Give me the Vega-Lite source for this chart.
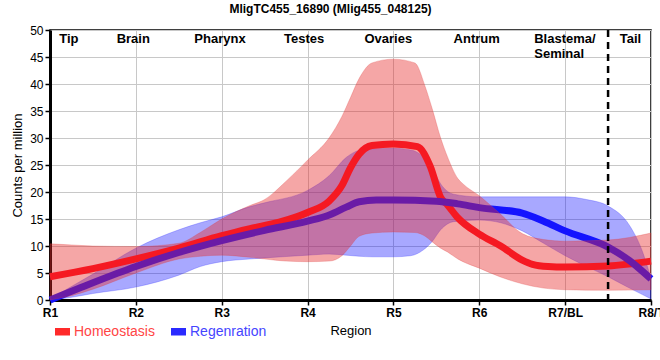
{
  "$schema": "https://vega.github.io/schema/vega-lite/v6.json",
  "width": 601,
  "height": 270,
  "autosize": "none",
  "padding": {"left": 50, "top": 30, "right": 9, "bottom": 60},
  "config": {
    "font": "Liberation Sans",
    "view": {"stroke": "black", "strokeWidth": 1.5},
    "axis": {"grid": true, "gridColor": "#c8c8c8", "gridWidth": 1, "domainColor": "black", "domainWidth": 3, "tickColor": "black", "tickSize": 5, "tickWidth": 1.5, "labelFontSize": 12, "labelColor": "black", "labelPadding": 2, "labelFlush": false, "labelOverlap": false, "titleFontSize": 13, "titleFontWeight": "normal", "titleColor": "black"},
    "axisX": {"tickCount": 8, "labelExpr": "datum.value == 7 ? 'R7/BL' : datum.value == 8 ? 'R8/T' : 'R' + datum.value", "labelFontWeight": "bold", "titlePadding": 6},
    "axisY": {"tickCount": 10, "titlePadding": 5}
  },
  "title": {"text": "MligTC455_16890 (Mlig455_048125)", "fontSize": 12, "fontWeight": "bold", "font": "Liberation Sans", "color": "black", "anchor": "middle", "dx": -20, "offset": 8},
  "datasets": {
    "lines": [
      {"x": 1, "y": 4.3, "g": "Homeostasis"},
      {"x": 1.5, "y": 5.8, "g": "Homeostasis"},
      {"x": 2, "y": 7.6, "g": "Homeostasis"},
      {"x": 2.5, "y": 9.6, "g": "Homeostasis"},
      {"x": 3, "y": 11.9, "g": "Homeostasis"},
      {"x": 3.33, "y": 13.2, "g": "Homeostasis"},
      {"x": 3.67, "y": 14.4, "g": "Homeostasis"},
      {"x": 4, "y": 16.2, "g": "Homeostasis"},
      {"x": 4.25, "y": 18.3, "g": "Homeostasis"},
      {"x": 4.4, "y": 21.2, "g": "Homeostasis"},
      {"x": 4.5, "y": 24.5, "g": "Homeostasis"},
      {"x": 4.6, "y": 27.0, "g": "Homeostasis"},
      {"x": 4.75, "y": 28.6, "g": "Homeostasis"},
      {"x": 5, "y": 28.9, "g": "Homeostasis"},
      {"x": 5.28, "y": 28.4, "g": "Homeostasis"},
      {"x": 5.43, "y": 24.7, "g": "Homeostasis"},
      {"x": 5.55, "y": 19.0, "g": "Homeostasis"},
      {"x": 5.63, "y": 17.6, "g": "Homeostasis"},
      {"x": 5.74, "y": 15.4, "g": "Homeostasis"},
      {"x": 6, "y": 12.2, "g": "Homeostasis"},
      {"x": 6.25, "y": 10.0, "g": "Homeostasis"},
      {"x": 6.5, "y": 7.4, "g": "Homeostasis"},
      {"x": 6.62, "y": 6.6, "g": "Homeostasis"},
      {"x": 6.8, "y": 6.2, "g": "Homeostasis"},
      {"x": 7, "y": 6.1, "g": "Homeostasis"},
      {"x": 7.5, "y": 6.3, "g": "Homeostasis"},
      {"x": 8, "y": 7.2, "g": "Homeostasis"},
      {"x": 1, "y": 0, "g": "Regenration"},
      {"x": 1.5, "y": 3.2, "g": "Regenration"},
      {"x": 2, "y": 6.2, "g": "Regenration"},
      {"x": 2.5, "y": 8.8, "g": "Regenration"},
      {"x": 3, "y": 11.0, "g": "Regenration"},
      {"x": 3.5, "y": 12.9, "g": "Regenration"},
      {"x": 4, "y": 14.6, "g": "Regenration"},
      {"x": 4.26, "y": 15.8, "g": "Regenration"},
      {"x": 4.45, "y": 17.2, "g": "Regenration"},
      {"x": 4.6, "y": 18.2, "g": "Regenration"},
      {"x": 4.8, "y": 18.5, "g": "Regenration"},
      {"x": 5, "y": 18.5, "g": "Regenration"},
      {"x": 5.5, "y": 18.3, "g": "Regenration"},
      {"x": 5.75, "y": 17.8, "g": "Regenration"},
      {"x": 6, "y": 17.1, "g": "Regenration"},
      {"x": 6.5, "y": 16.1, "g": "Regenration"},
      {"x": 6.75, "y": 14.6, "g": "Regenration"},
      {"x": 7, "y": 12.8, "g": "Regenration"},
      {"x": 7.5, "y": 9.8, "g": "Regenration"},
      {"x": 7.75, "y": 7.3, "g": "Regenration"},
      {"x": 8, "y": 3.9, "g": "Regenration"}
    ],
    "redband": [
      {"x": 1, "lo": 0, "hi": 10.4},
      {"x": 1.25, "lo": 0.8, "hi": 10.2},
      {"x": 1.5, "lo": 2.0, "hi": 10.0},
      {"x": 2, "lo": 5.0, "hi": 9.9},
      {"x": 2.5, "lo": 7.6, "hi": 10.5},
      {"x": 2.75, "lo": 8.1, "hi": 12.5},
      {"x": 3, "lo": 8.3, "hi": 15.0},
      {"x": 3.33, "lo": 7.9, "hi": 17.5},
      {"x": 3.5, "lo": 7.6, "hi": 18.6},
      {"x": 3.75, "lo": 7.2, "hi": 22.0},
      {"x": 4, "lo": 7.1, "hi": 25.9},
      {"x": 4.25, "lo": 7.2, "hi": 30.0},
      {"x": 4.4, "lo": 8.2, "hi": 34.0},
      {"x": 4.5, "lo": 10.0, "hi": 37.5},
      {"x": 4.6, "lo": 11.8, "hi": 41.0},
      {"x": 4.75, "lo": 12.4, "hi": 43.9},
      {"x": 5, "lo": 12.6, "hi": 44.6},
      {"x": 5.25, "lo": 12.5, "hi": 43.9},
      {"x": 5.37, "lo": 11.8, "hi": 39.5},
      {"x": 5.45, "lo": 10.8, "hi": 35.5},
      {"x": 5.55, "lo": 9.6, "hi": 30.0},
      {"x": 5.63, "lo": 8.9, "hi": 26.5},
      {"x": 5.75, "lo": 7.6, "hi": 22.5},
      {"x": 5.81, "lo": 7.1, "hi": 21.5},
      {"x": 6, "lo": 5.9, "hi": 19.3},
      {"x": 6.24, "lo": 4.3, "hi": 16.0},
      {"x": 6.5, "lo": 3.0, "hi": 12.3},
      {"x": 6.75, "lo": 2.2, "hi": 11.2},
      {"x": 7, "lo": 1.9, "hi": 10.9},
      {"x": 7.5, "lo": 1.8, "hi": 11.1},
      {"x": 8, "lo": 1.9, "hi": 12.4}
    ],
    "blueband": [
      {"x": 1, "lo": 0, "hi": 0.2},
      {"x": 1.25, "lo": 0.5, "hi": 2.5},
      {"x": 1.5, "lo": 1.2, "hi": 4.8},
      {"x": 2, "lo": 2.4, "hi": 9.6},
      {"x": 2.5, "lo": 4.6, "hi": 13.0},
      {"x": 2.75, "lo": 6.2, "hi": 14.3},
      {"x": 3, "lo": 7.1, "hi": 15.4},
      {"x": 3.33, "lo": 7.6, "hi": 17.3},
      {"x": 3.5, "lo": 7.8, "hi": 18.0},
      {"x": 4, "lo": 8.3, "hi": 20.3},
      {"x": 4.25, "lo": 8.5, "hi": 23.0},
      {"x": 4.45, "lo": 8.3, "hi": 26.4},
      {"x": 4.6, "lo": 8.1, "hi": 27.7},
      {"x": 4.75, "lo": 8.0, "hi": 28.0},
      {"x": 5, "lo": 8.0, "hi": 28.1},
      {"x": 5.2, "lo": 8.2, "hi": 27.8},
      {"x": 5.35, "lo": 9.3, "hi": 26.5},
      {"x": 5.45, "lo": 10.8, "hi": 24.5},
      {"x": 5.55, "lo": 13.0, "hi": 21.5},
      {"x": 5.7, "lo": 14.5, "hi": 19.6},
      {"x": 6, "lo": 14.8, "hi": 19.1},
      {"x": 6.25, "lo": 14.3, "hi": 19.1},
      {"x": 6.5, "lo": 12.8, "hi": 19.1},
      {"x": 6.75, "lo": 10.5, "hi": 19.1},
      {"x": 7, "lo": 8.2, "hi": 19.1},
      {"x": 7.25, "lo": 6.2, "hi": 18.6},
      {"x": 7.5, "lo": 4.3, "hi": 17.4},
      {"x": 7.75, "lo": 2.2, "hi": 13.8},
      {"x": 7.9, "lo": 1.0, "hi": 9.0},
      {"x": 8, "lo": 0.2, "hi": 4.0}
    ],
    "labels": [
      {"x": 1.22, "y": 49.4, "t": "Tip"},
      {"x": 1.97, "y": 49.4, "t": "Brain"},
      {"x": 2.98, "y": 49.4, "t": "Pharynx"},
      {"x": 3.96, "y": 49.4, "t": "Testes"},
      {"x": 4.94, "y": 49.4, "t": "Ovaries"},
      {"x": 5.97, "y": 49.4, "t": "Antrum"},
      {"x": 7.76, "y": 49.4, "t": "Tail"}
    ],
    "labels2": [
      {"x": 6.64, "y": 49.4, "t": "Blastema/\nSeminal"}
    ],
    "divider": [{"x": 7.5}]
  },
  "layer": [
    {
      "data": {"name": "blueband"},
      "mark": {"type": "area", "interpolate": "monotone", "color": "#0000ff", "fillOpacity": 0.34, "stroke": "#3030ff", "strokeOpacity": 0.35, "strokeWidth": 0.8},
      "encoding": {
        "x": {"field": "x", "type": "quantitative", "title": "Region", "scale": {"domain": [1, 8], "nice": false, "zero": false}},
        "y": {"field": "lo", "type": "quantitative", "title": "Counts per million", "scale": {"domain": [0, 50], "nice": false}},
        "y2": {"field": "hi"}
      }
    },
    {
      "data": {"name": "lines"},
      "transform": [{"filter": "datum.g == 'Homeostasis'"}],
      "mark": {"type": "line", "interpolate": "monotone", "strokeWidth": 7, "strokeCap": "butt"},
      "encoding": {
        "x": {"field": "x", "type": "quantitative"},
        "y": {"field": "y", "type": "quantitative"},
        "color": {"field": "g", "type": "nominal", "scale": {"domain": ["Homeostasis", "Regenration"], "range": ["#ff1020", "#1414ff"]},
          "legend": {"orient": "none", "legendX": 5, "legendY": 294, "direction": "horizontal", "title": null, "symbolType": "M-1,-0.5L1,-0.5L1,0.5L-1,0.5Z", "symbolSize": 225, "symbolStrokeWidth": 0, "labelFontSize": 14, "labelFont": "Liberation Sans", "labelOffset": 4, "columnPadding": 16, "padding": 0,
            "encode": {"symbols": {"update": {"fill": {"signal": "datum.value == 'Homeostasis' ? '#ff2a2a' : '#2a2aff'"}, "opacity": {"value": 1}}}, "labels": {"update": {"fontSize": {"value": 14}, "fill": {"signal": "datum.value == 'Homeostasis' ? '#ff4545' : '#4545ff'"}}}}}}
      }
    },
    {
      "data": {"name": "lines"},
      "transform": [{"filter": "datum.g == 'Regenration'"}],
      "mark": {"type": "line", "interpolate": "monotone", "strokeWidth": 7, "strokeCap": "butt"},
      "encoding": {
        "x": {"field": "x", "type": "quantitative"},
        "y": {"field": "y", "type": "quantitative"},
        "color": {"field": "g", "type": "nominal"}
      }
    },
    {
      "data": {"name": "redband"},
      "mark": {"type": "area", "interpolate": "monotone", "color": "#e62828", "fillOpacity": 0.41, "stroke": "#e04040", "strokeOpacity": 0.35, "strokeWidth": 0.8},
      "encoding": {
        "x": {"field": "x", "type": "quantitative"},
        "y": {"field": "lo", "type": "quantitative"},
        "y2": {"field": "hi"}
      }
    },
    {
      "data": {"name": "divider"},
      "mark": {"type": "rule", "color": "black", "strokeWidth": 2.5, "strokeDash": [7, 5]},
      "encoding": {
        "x": {"field": "x", "type": "quantitative"}
      }
    },
    {
      "data": {"name": "labels"},
      "mark": {"type": "text", "fontSize": 13, "fontWeight": "bold", "color": "black", "align": "center", "baseline": "top"},
      "encoding": {
        "x": {"field": "x", "type": "quantitative"},
        "y": {"field": "y", "type": "quantitative"},
        "text": {"field": "t"}
      }
    },
    {
      "data": {"name": "labels2"},
      "mark": {"type": "text", "fontSize": 13, "fontWeight": "bold", "color": "black", "align": "left", "baseline": "top", "lineBreak": "\n", "lineHeight": 15},
      "encoding": {
        "x": {"field": "x", "type": "quantitative"},
        "y": {"field": "y", "type": "quantitative"},
        "text": {"field": "t"}
      }
    }
  ]
}
